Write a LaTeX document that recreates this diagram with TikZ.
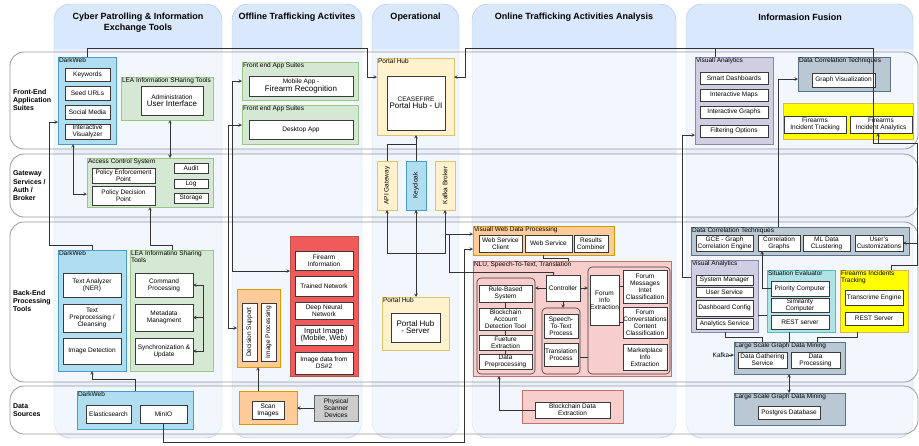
\documentclass[tikz,border=0pt]{standalone}
\usepackage{fontspec}
\setmainfont{Liberation Sans}
\usepackage{graphicx}
\usepackage{tikz}
\tikzset{>=stealth}
\usetikzlibrary{arrows}

\definecolor{colhead}{HTML}{DAE8FC}
\definecolor{colbody}{HTML}{E9F0FC}
\definecolor{colline}{HTML}{A9C4EB}
\definecolor{rowline}{HTML}{9A9A9A}
\definecolor{boxline}{HTML}{3A3A3A}
\definecolor{connline}{HTML}{333333}
\definecolor{dwfill}{HTML}{B1DDF0}
\definecolor{dwline}{HTML}{4A9CC6}
\definecolor{greenfill}{HTML}{D5E8D4}
\definecolor{greenline}{HTML}{9CC58A}
\definecolor{orangefill}{HTML}{FFCC99}
\definecolor{orangeline}{HTML}{D79B00}
\definecolor{yellowfill}{HTML}{FFF2CC}
\definecolor{yellowline}{HTML}{E0C46C}
\definecolor{brightfill}{HTML}{FFFF00}
\definecolor{brightline}{HTML}{D6B656}
\definecolor{redfill}{HTML}{F05A5A}
\definecolor{redline}{HTML}{B85450}
\definecolor{pinkfill}{HTML}{F8CECC}
\definecolor{pinkline}{HTML}{C76F6C}
\definecolor{purplefill}{HTML}{D0CEE2}
\definecolor{purpleline}{HTML}{8C86AE}
\definecolor{slatefill}{HTML}{BAC8D3}
\definecolor{slateline}{HTML}{5A7186}
\definecolor{cyanfill}{HTML}{B0E3E6}
\definecolor{cyanline}{HTML}{5BB8BC}
\definecolor{greyfill}{HTML}{CCCCCC}
\definecolor{greyline}{HTML}{666666}

\newcommand{\smallfont}{\fontsize{6.5}{7}\selectfont}
\newcommand{\bigfont}{\fontsize{8}{9.5}\selectfont}
\newcommand{\bx}[7]{\node[#6, anchor=north west, minimum width={(#4-(#2))*1pt}, minimum height={(#5-(#3))*1pt}] (#1) at (#2,#3) {#7};}
\newcommand{\collane}[2]{%
  \fill[colbody, rounded corners=16] (#1,4) rectangle (#2,438);
  \begin{scope}
    \clip (#1,0) rectangle (#2,48);
    \fill[colhead, rounded corners=16] (#1,4) rectangle (#2,438);
  \end{scope}
  \draw[colline, rounded corners=16] (#1,4) rectangle (#2,438);}

\tikzset{
  every node/.style={font=\smallfont, inner sep=0pt, outer sep=0pt, align=center},
  box/.style={draw=boxline, fill=white, line width=0.6pt},
  grp/.style={line width=0.7pt},
  bluegrp/.style={grp, draw=dwline, fill=dwfill},
  greengrp/.style={grp, draw=greenline, fill=greenfill},
  orangegrp/.style={grp, draw=orangeline, fill=orangefill},
  yellowgrp/.style={grp, draw=yellowline, fill=yellowfill},
  brightgrp/.style={grp, draw=brightline, fill=brightfill},
  redgrp/.style={grp, draw=redline, fill=redfill},
  pinkgrp/.style={grp, draw=pinkline, fill=pinkfill},
  purplegrp/.style={grp, draw=purpleline, fill=purplefill},
  slategrp/.style={grp, draw=slateline, fill=slatefill},
  cyangrp/.style={grp, draw=cyanline, fill=cyanfill},
  greygrp/.style={grp, draw=greyline, fill=greyfill},
  subgrp/.style={draw=boxline, fill=pinkfill, line width=0.6pt, rounded corners=4pt},
  grplbl/.style={anchor=north west, inner sep=1pt, align=left},
  conn/.style={draw=connline, line width=0.6pt},
  rowlane/.style={draw=rowline, line width=0.8pt, fill=white, fill opacity=0.45, rounded corners=14pt},
  rowlbl/.style={anchor=west, align=left, font=\fontsize{7}{8.3}\selectfont\bfseries},
  coltitle/.style={font=\fontsize{9}{11}\selectfont\bfseries, align=center}
}

\begin{document}
\begin{tikzpicture}[x=1pt, y=-1pt]
\useasboundingbox (0,0) rectangle (919,445);

\collane{54}{222}
\collane{232}{362}
\collane{372}{459}
\collane{472}{676}
\collane{686}{913}
\node[coltitle] (tcyber) at (138,23) {Cyber Patrolling \& Information\\Exchange Tools};
\node[coltitle] (toffline) at (297,17) {Offline Trafficking Activites};
\node[coltitle] (toper) at (415.5,17) {Operational};
\node[coltitle] (tonline) at (574,17) {Online Trafficking Activities Analysis};
\node[coltitle] (tfusion) at (800,17) {Informasion Fusion};

\draw[rowlane] (10,52) rectangle (918,149);
\draw[rowlane] (10,154) rectangle (918,217);
\draw[rowlane] (10,222) rectangle (918,382);
\draw[rowlane] (10,386) rectangle (918,434);
\node[rowlbl] (rfront) at (13,100) {Front-End\\Application\\Suites};
\node[rowlbl] (rgate) at (13,186) {Gateway\\Services /\\Auth /\\Broker};
\node[rowlbl] (rback) at (13,301) {Back-End\\Processing\\Tools};
\node[rowlbl] (rdata) at (13,410) {Data\\Sources};

\bx{dwf}{58}{57}{116}{144}{bluegrp, label={[grplbl]north west:DarkWeb}}{}
\bx{kw}{65}{68}{110}{81}{box}{Keywords}
\bx{seed}{65}{86}{110}{100}{box}{Seed URLs}
\bx{social}{65}{105}{110}{119}{box}{Social Media}
\bx{ivis}{65}{124}{110}{139}{box}{Interactive\\Visualyzer}
\bx{leaf}{121}{77}{213}{120}{greengrp, label={[grplbl]north west:LEA Information SHaring Tools}}{}
\bx{admin}{141}{86}{203}{115}{box}{Administration\\{\bigfont User Interface}}
\bx{acs}{87}{158}{213}{207}{greengrp, label={[grplbl]north west:Access Control System}}{}
\bx{pep}{92}{168}{155}{183}{box}{Policy Enforcement\\Point}
\bx{pdp}{92}{186}{155}{205}{box}{Policy Decision\\Point}
\bx{audit}{174}{163}{208}{173}{box}{Audit}
\bx{log}{174}{179}{208}{188}{box}{Log}
\bx{storage}{174}{193}{208}{203}{box}{Storage}
\bx{dwb}{58}{250}{126}{371}{bluegrp, label={[grplbl]north west:DarkWeb}}{}
\bx{ner}{63}{273}{121}{297}{box}{Text Analyzer\\(NER)}
\bx{prep}{63}{304}{121}{332}{box}{Text\\Preprocessing /\\Cleansing}
\bx{imgdet}{63}{338}{121}{364}{box}{Image Detection}
\bx{leab}{130}{250}{213}{371}{greengrp, label={[grplbl]north west:LEA Informatino Sharing\\Tools}}{}
\bx{cmd}{135}{273}{193}{297}{box}{Command\\Processing}
\bx{meta}{135}{304}{193}{331}{box}{Metadata\\Managment}
\bx{sync}{135}{338}{193}{364}{box}{Synchronization \&\\Update}
\bx{dwds}{77}{391}{193}{429}{bluegrp, label={[grplbl]north west:DarkWeb}}{}
\bx{es}{86}{405}{131}{423}{box}{Elasticsearch}
\bx{minio}{140}{405}{187}{423}{box}{MinIO}

\bx{fas1}{242}{62}{358}{100}{greengrp, label={[grplbl]north west:Front end App Suites}}{}
\bx{mobile}{249}{76}{353}{96}{box}{Mobile App -\\{\bigfont Firearm Recognition}}
\bx{fas2}{242}{105}{358}{144}{greengrp, label={[grplbl]north west:Front end App Suites}}{}
\bx{desktop}{249}{120}{353}{139}{box}{Desktop App}
\bx{redbox}{290}{236}{358}{376}{redgrp}{}
\bx{fi}{295}{251}{353}{270}{box}{Firearm\\Information}
\bx{tn}{295}{276}{353}{296}{box}{Trained Network}
\bx{dnn}{295}{302}{353}{319}{box}{Deep Neural\\Network}
\bx{inimg}{295}{325}{353}{345}{box}{{\fontsize{7.5}{8.5}\selectfont Input Image}\\{\fontsize{7.5}{8.5}\selectfont (Mobile, Web)}}
\bx{ds2}{295}{352}{353}{374}{box}{Image data from\\DS\#2}
\bx{orng}{237}{289}{280}{367}{orangegrp}{}
\bx{decs}{242}{303}{257}{361}{box}{\rotatebox{90}{Decision Support}}
\bx{imgp}{261}{303}{276}{361}{box}{\rotatebox{90}{Image Processing}}
\bx{scanbox}{239}{391}{297}{424}{orangegrp}{}
\bx{scan}{252}{401}{284}{419}{box}{Scan\\Images}
\bx{phys}{314}{395}{358}{421}{greygrp}{Physical\\Scanner\\Devices}

\bx{phubt}{377}{58}{454}{135}{yellowgrp, label={[grplbl]north west:Portal Hub}}{}
\bx{phui}{387}{76}{445}{130}{box}{CEASEFIRE\\{\bigfont Portal Hub - UI}}
\bx{api}{377}{161}{397}{210}{yellowgrp}{\rotatebox{90}{API Gateway}}
\bx{kc}{406}{161}{426}{210}{bluegrp}{\rotatebox{90}{Keycloak}}
\bx{kafka}{435}{161}{455}{210}{yellowgrp}{\rotatebox{90}{Kafka Broker}}
\bx{phubb}{382}{297}{449}{350}{yellowgrp, label={[grplbl]north west:Portal Hub}}{}
\bx{phsrv}{391}{313}{440}{342}{box}{{\bigfont Portal Hub}\\{\bigfont - Server}}

\bx{vwdp}{473}{226}{614}{255}{orangegrp, label={[grplbl]north west:Visuall Web Data Processing}}{}
\bx{wsc}{479}{235}{522}{252}{box}{Web Service\\Client}
\bx{ws}{525}{235}{572}{252}{box}{Web Service}
\bx{rc}{574}{235}{608}{252}{box}{Results\\Combiner}
\bx{nlu}{473}{261}{671}{376}{pinkgrp, label={[grplbl]north west:{NLU, Speech-To-Text, Translation}}}{}
\bx{lgrp}{477}{278}{535}{374}{subgrp}{}
\bx{rbs}{479}{285}{532}{302}{box}{Rule-Based\\System}
\bx{bcad}{479}{308}{532}{330}{box}{Blockchain\\Account\\Detection Tool}
\bx{fext}{479}{335}{532}{350}{box}{Fueture\\Extraction}
\bx{dprep}{479}{354}{532}{369}{box}{Data\\Preprocessing}
\bx{ctrl}{546}{275}{580}{301}{box}{Controller}
\bx{mgrp}{542}{308}{580}{374}{subgrp}{}
\bx{stt}{544}{314}{578}{338}{box}{Speech-\\To-Text\\Process}
\bx{trp}{544}{343}{578}{366}{box}{Translation\\Process}
\bx{rgrp}{588}{267}{670}{374}{subgrp}{}
\bx{fie}{590}{275}{619}{325}{box}{Forum\\Info\\Extraction}
\bx{fmic}{623}{270}{667}{303}{box}{Forum\\Messages\\Intet\\Classification}
\bx{fccc}{623}{307}{667}{338}{box}{Forum\\Converstations\\Content\\Classification}
\bx{mie}{623}{344}{667}{370}{box}{Marketplace\\Info\\Extraction}
\bx{bdebox}{522}{390}{623}{423}{pinkgrp}{}
\bx{bde}{535}{402}{610}{418}{box}{Blockchain Data\\Extraction}

\bx{vaf}{695}{57}{773}{144}{purplegrp, label={[grplbl]north west:Visuall Analytics}}{}
\bx{sd}{700}{72}{768}{84}{box}{Smart Dashboards}
\bx{im}{700}{89}{768}{101}{box}{Interactive Maps}
\bx{ig}{700}{106}{768}{118}{box}{Interactive Graphs}
\bx{fo}{700}{125}{768}{137}{box}{Filtering Options}
\bx{dctt}{798}{57}{890}{91}{slategrp, label={[grplbl]north west:Data Correlation Techniques}}{}
\bx{gv}{812}{73}{875}{87}{box}{Graph Visualization}
\bx{ybox}{783}{103}{913}{139}{brightgrp}{}
\bx{fit}{784}{116}{846}{133}{box}{Firearms\\Incident Tracking}
\bx{fia}{850}{116}{912}{133}{box}{Firearms\\Incident Analytics}
\bx{dctb}{691}{227}{909}{255}{slategrp, label={[grplbl]north west:Data Correlation Techniques}}{}
\bx{gce}{696}{235}{753}{251}{box}{GCE - Graph\\Correlation Engine}
\bx{cg}{758}{235}{800}{251}{box}{Correlation\\Graphs}
\bx{mlc}{803}{235}{850}{251}{box}{ML Data\\CLustering}
\bx{uc}{855}{235}{903}{251}{box}{User's\\Customizations}
\bx{vab}{691}{260}{758}{332}{purplegrp, label={[grplbl]north west:Visual Analytics}}{}
\bx{sm}{696}{275}{753}{285}{box}{System Manager}
\bx{us}{696}{287}{753}{297}{box}{User Service}
\bx{dc}{696}{300}{753}{316}{box}{Dashboard Config}
\bx{as}{696}{318}{753}{329}{box}{Analytics Service}
\bx{se}{767}{270}{835}{332}{cyangrp, label={[grplbl]north west:Situation Evaluator}}{}
\bx{pc}{771}{281}{829}{296}{box}{Priority Computer}
\bx{simc}{771}{298}{829}{312}{box}{Similarity\\Computer}
\bx{rest}{771}{315}{829}{329}{box}{REST server}
\bx{fitb}{840}{270}{908}{332}{brightgrp, label={[grplbl]north west:Firearms Incidents\\Tracking}}{}
\bx{tce}{845}{290}{903}{305}{box}{Transcrime Engine}
\bx{rests}{845}{312}{903}{325}{box}{REST Server}
\bx{lsgb}{734}{342}{845}{374}{slategrp, label={[grplbl]north west:Large Scale Graph Data Mining}}{}
\bx{dgs}{738}{352}{787}{368}{box}{Data Gathering\\Service}
\bx{dp}{791}{352}{840}{368}{box}{Data\\Processing}
\bx{lsgd}{734}{393}{845}{425}{slategrp, label={[grplbl]north west:Large Scale Graph Data Mining}}{}
\bx{pg}{758}{406}{820}{419}{box}{Postgres Database}
\node (kafkalbl) at (721,355) {Kafka};

\draw[conn,->] (dwf.north) |- (367,48) |- (phubt.west |- 0,77);
\draw[conn,->] (fitb.north -| 891,0) |- (917,265) -- (917,143) -- (873,143) -- (873,48) -- (465,48) |- (phubt.east |- 0,77);
\draw[conn] (vaf.north -| 715,0) -- (715,48);
\draw[conn,->] (917,243) -- (uc.east);
\draw[conn,->] (878,143) -- (fia.south -| 878,0);
\draw[conn,->] (vab.west |- 0,277) -| (682,135) -- (vaf.west |- 0,135);
\draw[conn,->] (dctb.north -| 778,0) |- (dctt.west |- 0,79);
\draw[conn,->] (pc.west) -| (cg.south -| 762,0);
\draw[conn] (vab.south -| 725,0) |- (762,337) -- (lsgb.north -| 762,0);
\draw[conn] (se.south -| 789,0) -- (lsgb.north -| 789,0);
\draw[conn] (fitb.south -| 857,0) |- (817,337) -- (lsgb.north -| 817,0);
\draw[conn] (vab.east |- 0,315) -- (se.west |- 0,315);
\draw[conn,<->] (lsgb.south -| 789,0) -- (lsgd.north -| 789,0);
\draw[conn,->] (kafkalbl.east) -- (lsgb.west |- kafkalbl.east);

\draw[conn,->] (kc.north) -- (phubt.south -| kc.north);
\draw[conn] (api.north) |- (416,144);
\draw[conn,<->] (api.south) |- (kafka.south |- 0,253) -- (kafka.south);
\draw[conn,->] (kafka.south |- 0,234) -- (vwdp.west |- 0,234);
\draw[conn] (449,234) |- (553,272) -- (ctrl.north -| 553,0);
\draw[conn,<->] (kc.south) -- (phubb.north -| kc.south);

\draw[conn,<->] (fas1.west |- 0,81) -| (232,271) -- (redbox.west |- 0,271);
\draw[conn,<->] (fas2.west |- 0,125) -| (228,328) -- (orng.west |- 0,328);
\draw[conn,->] (scanbox.north -| 258,0) -- (orng.south -| 258,0);
\draw[conn,->] (phys.west) -- (scanbox.east |- phys.west);

\draw[conn,->] (dwb.north -| 92,0) |- (49,245) |- (dwf.west |- 0,122);
\draw[conn,<->] (dwf.south -| 73,0) |- (acs.west |- 0,194);
\draw[conn,<->] (leaf.south -| 170,0) -- (acs.north -| 170,0);
\draw[conn,->] (leab.north -| 172,0) |- (150,245) -- (acs.south -| 150,0);
\draw[conn,->] (dwds.north -| 135,0) |- (92,379) -- (dwb.south -| 92,0);
\draw[conn,->] (203,317.5) |- (cmd.east);
\draw[conn,->] (203,317.5) |- (sync.east);
\draw[conn,->] (203,317.5) -- (meta.east);
\draw[conn,->] (minio.south) |- (464,442) |- (vwdp.west |- 0,249);

\draw[conn,->] (ctrl.west) -- (lgrp.east |- ctrl.west);
\draw[conn,->] (ctrl.east) -- (rgrp.west |- ctrl.east);
\draw[conn,->] (ctrl.south) -- (mgrp.north -| ctrl.south);
\draw[conn] (mgrp.east |- 0,357) -- (rgrp.west |- 0,357);
\draw[conn,->] (bde.west) -| (nlu.south -| 499,0);
\draw[conn] (vwdp.south -| 543,0) |- (568,258) -- (nlu.north -| 568,0);
\draw[conn] (rbs.south) -- (bcad.north);
\draw[conn] (bcad.south) -- (fext.north);
\draw[conn] (fext.south) -- (dprep.north);
\draw[conn] (fie.east |- fmic.west) -- (fmic.west);
\draw[conn] (fie.east |- fccc.west) -- (fccc.west);
\end{tikzpicture}
\end{document}
